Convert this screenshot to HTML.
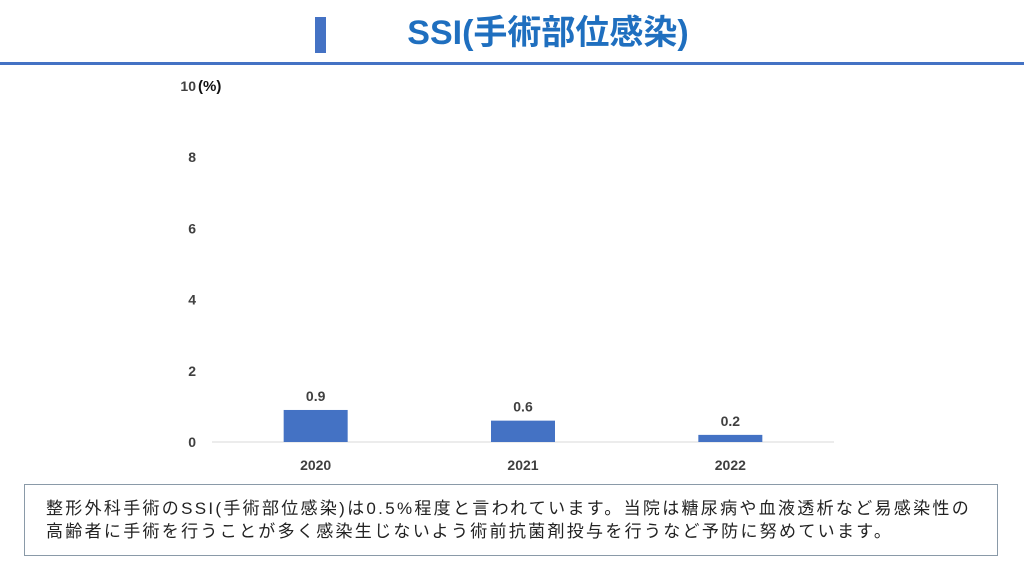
<!DOCTYPE html>
<html><head><meta charset="utf-8"><style>
body{margin:0;width:1024px;height:568px;background:#fff;overflow:hidden;font-family:"Liberation Sans","Noto Sans CJK JP",sans-serif;position:relative}
#title{position:absolute;left:300px;width:496px;top:10px;text-align:center;font-size:34px;font-weight:bold;color:#1f6fbf;line-height:46px}
#mark{position:absolute;left:315px;top:17px;width:11px;height:36px;background:#4472c4}
#rule{position:absolute;left:0;top:62px;width:1024px;height:3px;background:#4472c4}
#note{position:absolute;left:24px;top:484px;width:974px;height:72px;border:1px solid #8a9aa8;box-sizing:border-box;padding:12px 0 0 21px;font-size:17px;letter-spacing:2.3px;line-height:23px;color:#222;white-space:nowrap}
</style></head><body>
<div id="mark"></div>
<div id="title">SSI(手術部位感染)</div>
<div id="rule"></div>
<svg id="chart" width="1024" height="480" style="position:absolute;left:0;top:0"></svg>
<div id="note">整形外科手術のSSI(手術部位感染)は0.5%程度と言われています。当院は糖尿病や血液透析など易感染性の<br>高齢者に手術を行うことが多く感染生じないよう術前抗菌剤投与を行うなど予防に努めています。</div>
<script>
const categories=["2020","2021","2022"];
const values=[0.9,0.6,0.2];
const valueLabels=["0.9","0.6","0.2"];
const yTicks=[0,2,4,6,8,10];
const NS="http://www.w3.org/2000/svg";
const svg=document.getElementById('chart');
const x0=212,x1=834,y0=442,y1=86,yMax=10;
const y=v=>y0-(v/yMax)*(y0-y1);
const bw=(x1-x0)/categories.length;
const xc=i=>x0+bw*(i+0.5);
function mk(t,a,txt){const e=document.createElementNS(NS,t);for(const k in a)e.setAttribute(k,a[k]);if(txt!=null)e.textContent=txt;svg.appendChild(e);return e;}
let g=mk('line',{x1:x0,x2:x1,y1:y0,y2:y0,stroke:'#d9d9d9','stroke-width':1});


yTicks.forEach(t=>{
 const e=mk('text',{x:196,y:y(t)+5,'text-anchor':'end','font-size':14,'font-weight':'bold',fill:'#404040'},String(t));
 
 
});
let u=mk('text',{x:198,y:y(10)+5,'font-size':15,'font-weight':'bold',fill:'#111'},'(%)');


categories.forEach((c,i)=>{
 const r=mk('rect',{x:xc(i)-32,y:y(values[i]),width:64,height:y0-y(values[i]),fill:'#4472c4'});
 
 
 const l=mk('text',{x:xc(i),y:y(values[i])-9,'text-anchor':'middle','font-size':14,'font-weight':'bold',fill:'#404040'},valueLabels[i]);
 
 
 const xl=mk('text',{x:xc(i),y:470,'text-anchor':'middle','font-size':14,'font-weight':'bold',fill:'#404040'},c);
 
 
});
</script>
</body></html>
